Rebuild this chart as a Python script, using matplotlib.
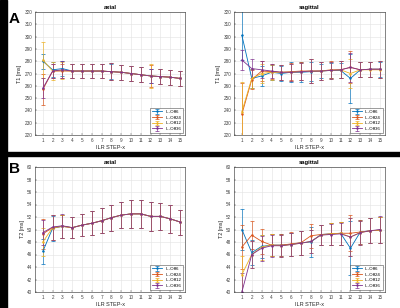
import matplotlib.pyplot as plt
from matplotlib.patches import Rectangle

steps = list(range(1, 16))
labels = ["IL-Off6", "IL-Off24", "IL-Off12", "IL-Off36"]
colors = ["#0072BD", "#D95319", "#EDB120", "#7E2F8E"]

# T1 axial
t1_ax = [
    [280, 273, 274, 272, 272, 272, 272, 271.5, 271, 270, 269, 268, 267.5, 267, 266],
    [257, 272, 272, 272, 272, 272, 272, 271.5, 271, 270, 269, 268, 267.5, 267, 266],
    [281, 272, 272.5, 272, 272, 272, 272, 271.5, 271, 270, 269, 268, 267.5, 267, 266],
    [258, 272, 273, 272, 272, 272, 272, 271.5, 271, 270, 269, 268, 267.5, 267, 266],
]
t1_ax_err = [
    [6, 6, 6, 6, 6, 6, 6, 6, 6, 6, 6, 6, 6, 6, 6],
    [13, 6, 6, 6, 6, 6, 6, 7, 6, 6, 6, 9, 6, 6, 6],
    [15, 7, 7, 6, 6, 6, 6, 7, 6, 6, 6, 10, 6, 6, 6],
    [8, 6, 7, 6, 6, 6, 6, 7, 6, 6, 6, 6, 6, 6, 6],
]

# T1 sagittal
t1_sag = [
    [301, 266, 268, 271, 270, 271, 271, 271.5, 272, 272.5, 272.5, 266, 273, 273.5, 273.5],
    [237, 265, 272, 271.5, 271, 271.5, 272, 272, 272, 273, 273, 275, 273, 273.5, 273.5],
    [239, 266, 270, 271, 271, 271, 271.5, 272, 272, 272.5, 273, 270, 273, 273, 273],
    [281, 274, 273, 272, 271, 271, 271.5, 272, 272, 272.5, 273, 275, 273, 273.5, 273.5],
]
t1_sag_err = [
    [20, 8, 8, 6, 6, 8, 8, 8, 6, 6, 6, 20, 6, 6, 6],
    [25, 8, 8, 6, 6, 7, 7, 10, 7, 7, 7, 13, 6, 6, 7],
    [24, 8, 8, 6, 6, 7, 7, 10, 7, 7, 7, 12, 6, 6, 7],
    [8, 8, 7, 6, 6, 7, 7, 10, 7, 7, 7, 12, 6, 6, 7],
]

# T2 axial
t2_ax = [
    [46.5, 50.2, 50.5, 50.3, 50.7, 51.0, 51.4, 51.9, 52.3, 52.5, 52.5, 52.1, 52.1, 51.7, 51.2],
    [49.3, 50.3, 50.5, 50.3, 50.7, 51.0, 51.4, 51.9, 52.3, 52.5, 52.5, 52.1, 52.1, 51.7, 51.2],
    [48.0, 50.3, 50.5, 50.3, 50.7, 51.0, 51.4, 51.9, 52.3, 52.5, 52.5, 52.1, 52.1, 51.7, 51.2],
    [49.5, 50.4, 50.6, 50.3, 50.7, 51.0, 51.4, 51.9, 52.3, 52.5, 52.5, 52.1, 52.1, 51.7, 51.2],
]
t2_ax_err = [
    [2.0, 2.0, 1.9, 1.7, 1.8, 1.9, 2.0, 2.1, 2.1, 2.2, 2.2, 2.3, 2.2, 2.2, 2.0],
    [2.4, 2.0, 1.9, 1.7, 1.8, 1.9, 2.0, 2.1, 2.1, 2.2, 2.2, 2.3, 2.2, 2.2, 2.0],
    [2.2, 2.0, 1.9, 1.7, 1.8, 1.9, 2.0, 2.1, 2.1, 2.2, 2.2, 2.3, 2.2, 2.2, 2.0],
    [2.0, 2.0, 1.9, 1.7, 1.8, 1.9, 2.0, 2.1, 2.1, 2.2, 2.2, 2.3, 2.2, 2.2, 2.0],
]

# T2 sagittal
t2_sag = [
    [50.0, 46.3, 47.3, 47.5, 47.5, 47.6, 47.9, 48.0, 49.2, 49.3, 49.4, 47.0, 49.6, 49.8, 49.9],
    [47.2, 49.1, 48.1, 47.5, 47.5, 47.7, 47.9, 49.0, 49.2, 49.3, 49.4, 49.4, 49.6, 49.8, 49.9],
    [42.8, 46.0, 47.2, 47.5, 47.4, 47.6, 47.8, 48.1, 49.1, 49.3, 49.4, 48.8, 49.5, 49.8, 49.9],
    [40.0, 46.0, 47.0, 47.4, 47.4, 47.6, 47.8, 48.1, 49.1, 49.2, 49.3, 48.8, 49.5, 49.8, 50.0],
]
t2_sag_err = [
    [3.3, 2.0, 1.9, 1.8, 1.8, 1.9, 1.9, 2.4, 1.6, 1.7, 1.8, 4.3, 1.9, 2.0, 2.1],
    [3.5, 2.2, 2.0, 1.8, 1.8, 1.9, 1.9, 1.9, 1.6, 1.7, 1.8, 2.9, 1.9, 2.0, 2.1],
    [3.0, 2.2, 2.0, 1.8, 1.8, 1.9, 1.9, 1.9, 1.6, 1.7, 1.8, 3.0, 1.9, 2.0, 2.1],
    [3.0, 2.2, 2.0, 1.8, 1.8, 1.9, 1.9, 1.9, 1.6, 1.7, 1.8, 3.0, 1.9, 2.0, 2.1],
]

plt.rcParams['font.family'] = ['Liberation Sans', 'DejaVu Sans']

fig = plt.figure(figsize=(4.0, 3.08), dpi=100)
W, H = 400, 308


def box(x0, y0, x1, y1):
    # pixel box (top-left origin) -> figure rect
    return [x0 / W, 1 - y1 / H, (x1 - x0) / W, (y1 - y0) / H]


def panel(rect, data, errs, title, ylabel, ylim, yticks):
    ax = fig.add_axes(rect)
    for vals, err, c, lab in zip(data, errs, colors, labels):
        ax.errorbar(steps, vals, yerr=err, color=c, label=lab, lw=0.6,
                    elinewidth=0.45, capsize=1.2, capthick=0.5,
                    marker='.', markersize=1.5)
    ax.set_xlim(0.2, 15.5)
    ax.set_ylim(*ylim)
    ax.set_xticks(steps)
    ax.set_yticks(yticks)
    ax.grid(True, color='#e2e2e2', lw=0.4)
    ax.set_axisbelow(True)
    ax.tick_params(labelsize=3.3, length=1.5, width=0.3, direction='in',
                   colors='#404040', pad=2)
    for s in ax.spines.values():
        s.set_linewidth(0.4)
        s.set_color('#262626')
    ax.set_title(title, fontsize=4.2, fontweight='bold', pad=2)
    ax.set_xlabel("ILR STEP-x", fontsize=4, labelpad=1.5, color='#262626')
    ax.set_ylabel(ylabel, fontsize=4, labelpad=1.5, color='#262626')
    leg = ax.legend(loc='lower right', fontsize=3.2, frameon=True,
                    fancybox=False, handlelength=2.2, borderpad=0.4,
                    labelspacing=0.35, edgecolor='#262626')
    leg.get_frame().set_linewidth(0.4)
    return ax


panel(box(35, 12, 185, 135), t1_ax, t1_ax_err, "axial", "T1 [ms]",
      (220, 320), range(220, 321, 10))
panel(box(234, 12, 385, 135), t1_sag, t1_sag_err, "sagittal", "T1 [ms]",
      (220, 320), range(220, 321, 10))
panel(box(35, 167, 185, 292), t2_ax, t2_ax_err, "axial", "T2 [ms]",
      (40, 60), range(40, 61, 2))
panel(box(234, 167, 385, 292), t2_sag, t2_sag_err, "sagittal", "T2 [ms]",
      (40, 60), range(40, 61, 2))

# black frame strips
fig.patches.append(Rectangle((0, 0), 7 / W, 1, transform=fig.transFigure,
                             color='black', zorder=0))
fig.patches.append(Rectangle((0, 1 - 156 / H), 1, 4 / H, transform=fig.transFigure,
                             color='black', zorder=0))

fig.text(9 / W, 1 - 19 / H, "A", fontsize=11, fontweight='bold', va='center')
fig.text(9 / W, 1 - 169 / H, "B", fontsize=11, fontweight='bold', va='center')

fig.savefig("out.png", dpi=100)
